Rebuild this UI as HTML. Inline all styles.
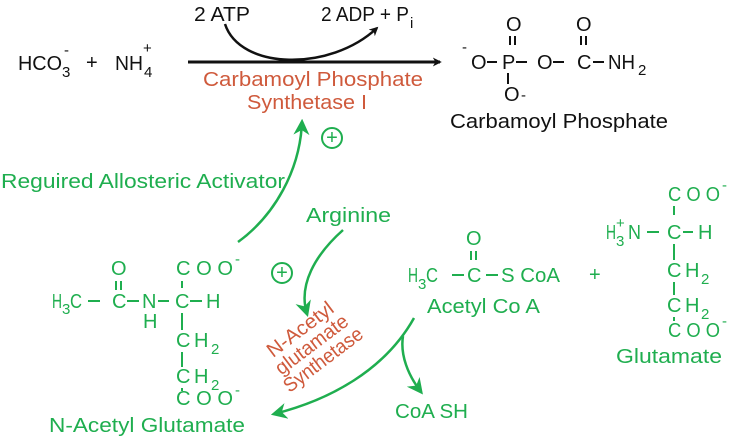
<!DOCTYPE html>
<html><head><meta charset="utf-8"><style>
html,body{margin:0;padding:0;background:#fff}
svg{display:block}
text{font-family:"Liberation Sans",sans-serif;font-size:20px}
.g{fill:#1fae4f}.o{fill:#cf5a3c}.k{fill:#111}
.s{font-size:15px}
</style></head><body>
<svg width="732" height="439" viewBox="0 0 732 439" xmlns="http://www.w3.org/2000/svg">
<defs>
<marker id="ak" viewBox="0 0 10 10" refX="8" refY="5" markerWidth="9" markerHeight="9" markerUnits="userSpaceOnUse" orient="auto"><path d="M0,0 L10,5 L0,10 L3,5z" fill="#111"/></marker>
<marker id="ag" viewBox="0 0 10 10" refX="8" refY="5" markerWidth="16" markerHeight="16" markerUnits="userSpaceOnUse" orient="auto"><path d="M0,0 L10,5 L0,10 L3,5z" fill="#1fae4f"/></marker>
</defs>
<!-- top reaction -->
<g class="k">
<text x="18" y="70" textLength="44" lengthAdjust="spacingAndGlyphs">HCO</text>
<text class="s" x="62" y="77">3</text>
<text class="s" x="64" y="55">-</text>
<text x="86" y="69">+</text>
<text x="115" y="70" textLength="28" lengthAdjust="spacingAndGlyphs">NH</text>
<text class="s" x="144" y="77">4</text>
<text class="s" x="143" y="53">+</text>
<text x="194" y="21" textLength="56" lengthAdjust="spacingAndGlyphs">2 ATP</text>
<text x="321" y="21" textLength="88" lengthAdjust="spacingAndGlyphs">2 ADP + P</text>
<text class="s" x="410" y="28">i</text>
</g>
<line x1="188" y1="62" x2="440" y2="62" stroke="#111" stroke-width="3" marker-end="url(#ak)"/>
<path d="M225,24 C240,70 330,72 377,28" fill="none" stroke="#111" stroke-width="2.5" marker-end="url(#ak)"/>
<text class="o" x="203" y="86" textLength="220" lengthAdjust="spacingAndGlyphs">Carbamoyl Phosphate</text>
<text class="o" x="247" y="109" textLength="120" lengthAdjust="spacingAndGlyphs">Synthetase I</text>
<!-- carbamoyl phosphate -->
<g class="k">
<text class="s" x="462" y="52">-</text>
<text x="471" y="69">O</text>
<text x="502" y="69">P</text>
<text x="506" y="31">O</text>
<text x="537" y="69">O</text>
<text x="577" y="69">C</text>
<text x="576" y="31">O</text>
<text x="608" y="69" textLength="27" lengthAdjust="spacingAndGlyphs">NH</text>
<text class="s" x="638" y="75">2</text>
<text x="504" y="101">O</text>
<text class="s" x="521" y="100">-</text>
<text x="450" y="128" textLength="218" lengthAdjust="spacingAndGlyphs">Carbamoyl Phosphate</text>
</g>
<g stroke="#111" stroke-width="2">
<line x1="487" y1="62" x2="497" y2="62"/><line x1="516" y1="62" x2="527" y2="62"/>
<line x1="553" y1="62" x2="564" y2="62"/><line x1="593" y1="62" x2="604" y2="62"/>
<line x1="510" y1="36" x2="510" y2="45"/><line x1="515" y1="36" x2="515" y2="45"/>
<line x1="581" y1="36" x2="581" y2="45"/><line x1="586" y1="36" x2="586" y2="45"/>
<line x1="508" y1="73" x2="508" y2="84"/>
</g>
<!-- activator arrow -->
<path d="M238,242 C275,215 300,170 302,122" fill="none" stroke="#1fae4f" stroke-width="2.5" marker-end="url(#ag)"/>
<circle cx="332" cy="138" r="10" fill="none" stroke="#1fae4f" stroke-width="2"/>
<text class="g" x="332" y="144" text-anchor="middle" font-size="17">+</text>
<text class="g" x="1" y="188" textLength="284" lengthAdjust="spacingAndGlyphs">Reguired Allosteric Activator</text>
<text class="g" x="306" y="222" textLength="85" lengthAdjust="spacingAndGlyphs">Arginine</text>
<path d="M343,230 C315,255 298,285 307,314" fill="none" stroke="#1fae4f" stroke-width="2.5" marker-end="url(#ag)"/>
<circle cx="282" cy="273" r="10" fill="none" stroke="#1fae4f" stroke-width="2"/>
<text class="g" x="282" y="279" text-anchor="middle" font-size="17">+</text>
<!-- N-acetyl glutamate -->
<g class="g">
<text x="111" y="275">O</text>
<text x="176" y="275" textLength="57" lengthAdjust="spacingAndGlyphs">C O O</text>
<text class="s" x="235" y="264">-</text>
<text x="52" y="308" textLength="10" lengthAdjust="spacingAndGlyphs">H</text>
<text class="s" x="62" y="314">3</text>
<text x="70" y="308" textLength="12" lengthAdjust="spacingAndGlyphs">C</text>
<text x="112" y="308">C</text>
<text x="142" y="308">N</text>
<text x="175" y="308">C</text>
<text x="206" y="308">H</text>
<text x="143" y="328">H</text>
<text x="176" y="347">C</text>
<text x="194" y="347">H</text>
<text class="s" x="211" y="354">2</text>
<text x="176" y="383">C</text>
<text x="194" y="383">H</text>
<text class="s" x="211" y="390">2</text>
<text x="176" y="405" textLength="57" lengthAdjust="spacingAndGlyphs">C O O</text>
<text class="s" x="235" y="395">-</text>
<text x="49" y="432" textLength="196" lengthAdjust="spacingAndGlyphs">N-Acetyl Glutamate</text>
</g>
<g stroke="#1fae4f" stroke-width="2">
<line x1="88" y1="301" x2="100" y2="301"/><line x1="127" y1="301" x2="139" y2="301"/><line x1="158" y1="301" x2="169" y2="301"/><line x1="190" y1="301" x2="202" y2="301"/>
<line x1="116" y1="281" x2="116" y2="290"/><line x1="121" y1="281" x2="121" y2="290"/>
<line x1="182" y1="281" x2="182" y2="288"/><line x1="182" y1="313" x2="182" y2="330"/>
<line x1="182" y1="352" x2="182" y2="367"/><line x1="182" y1="388" x2="182" y2="391"/>
</g>
<!-- enzyme label -->
<g class="o" transform="translate(312,345) rotate(-37)" text-anchor="middle">
<text x="0" y="-13" textLength="78" lengthAdjust="spacingAndGlyphs">N-Acetyl</text>
<text x="0" y="6" textLength="86" lengthAdjust="spacingAndGlyphs">glutamate</text>
<text x="0" y="25" textLength="94" lengthAdjust="spacingAndGlyphs">Synthetase</text>
</g>
<!-- acetyl CoA -->
<path d="M414,318 C385,370 330,400 274,414" fill="none" stroke="#1fae4f" stroke-width="2.5" marker-end="url(#ag)"/>
<path d="M403,336 C400,355 408,375 421,392" fill="none" stroke="#1fae4f" stroke-width="2.5" marker-end="url(#ag)"/>
<g class="g">
<text x="466" y="245">O</text>
<text x="408" y="282" textLength="10" lengthAdjust="spacingAndGlyphs">H</text>
<text class="s" x="418" y="289">3</text>
<text x="426" y="282" textLength="12" lengthAdjust="spacingAndGlyphs">C</text>
<text x="467" y="282">C</text>
<text x="501" y="282" textLength="59" lengthAdjust="spacingAndGlyphs">S CoA</text>
<text x="427" y="313" textLength="113" lengthAdjust="spacingAndGlyphs">Acetyl Co A</text>
<text x="589" y="281">+</text>
<text x="395" y="418" textLength="73" lengthAdjust="spacingAndGlyphs">CoA SH</text>
</g>
<g stroke="#1fae4f" stroke-width="2">
<line x1="452" y1="275" x2="464" y2="275"/><line x1="486" y1="275" x2="498" y2="275"/>
<line x1="471" y1="251" x2="471" y2="260"/><line x1="476" y1="251" x2="476" y2="260"/>
</g>
<!-- glutamate -->
<g class="g">
<text x="668" y="201" textLength="52" lengthAdjust="spacingAndGlyphs">C O O</text>
<text class="s" x="722" y="190">-</text>
<text x="606" y="239" textLength="10" lengthAdjust="spacingAndGlyphs">H</text>
<text class="s" x="616" y="246">3</text>
<text class="s" x="616" y="228">+</text>
<text x="628" y="239" textLength="13" lengthAdjust="spacingAndGlyphs">N</text>
<text x="667" y="239">C</text>
<text x="698" y="239">H</text>
<text x="667" y="277">C</text>
<text x="685" y="277">H</text>
<text class="s" x="701" y="284">2</text>
<text x="667" y="312">C</text>
<text x="685" y="312">H</text>
<text class="s" x="701" y="319">2</text>
<text x="668" y="337" textLength="52" lengthAdjust="spacingAndGlyphs">C O O</text>
<text class="s" x="722" y="326">-</text>
<text x="616" y="363" textLength="106" lengthAdjust="spacingAndGlyphs">Glutamate</text>
</g>
<g stroke="#1fae4f" stroke-width="2">
<line x1="647" y1="232" x2="659" y2="232"/><line x1="683" y1="232" x2="693" y2="232"/>
<line x1="674" y1="206" x2="674" y2="215"/><line x1="674" y1="244" x2="674" y2="260"/>
<line x1="674" y1="282" x2="674" y2="295"/><line x1="674" y1="317" x2="674" y2="321"/>
</g>
</svg>
</body></html>
